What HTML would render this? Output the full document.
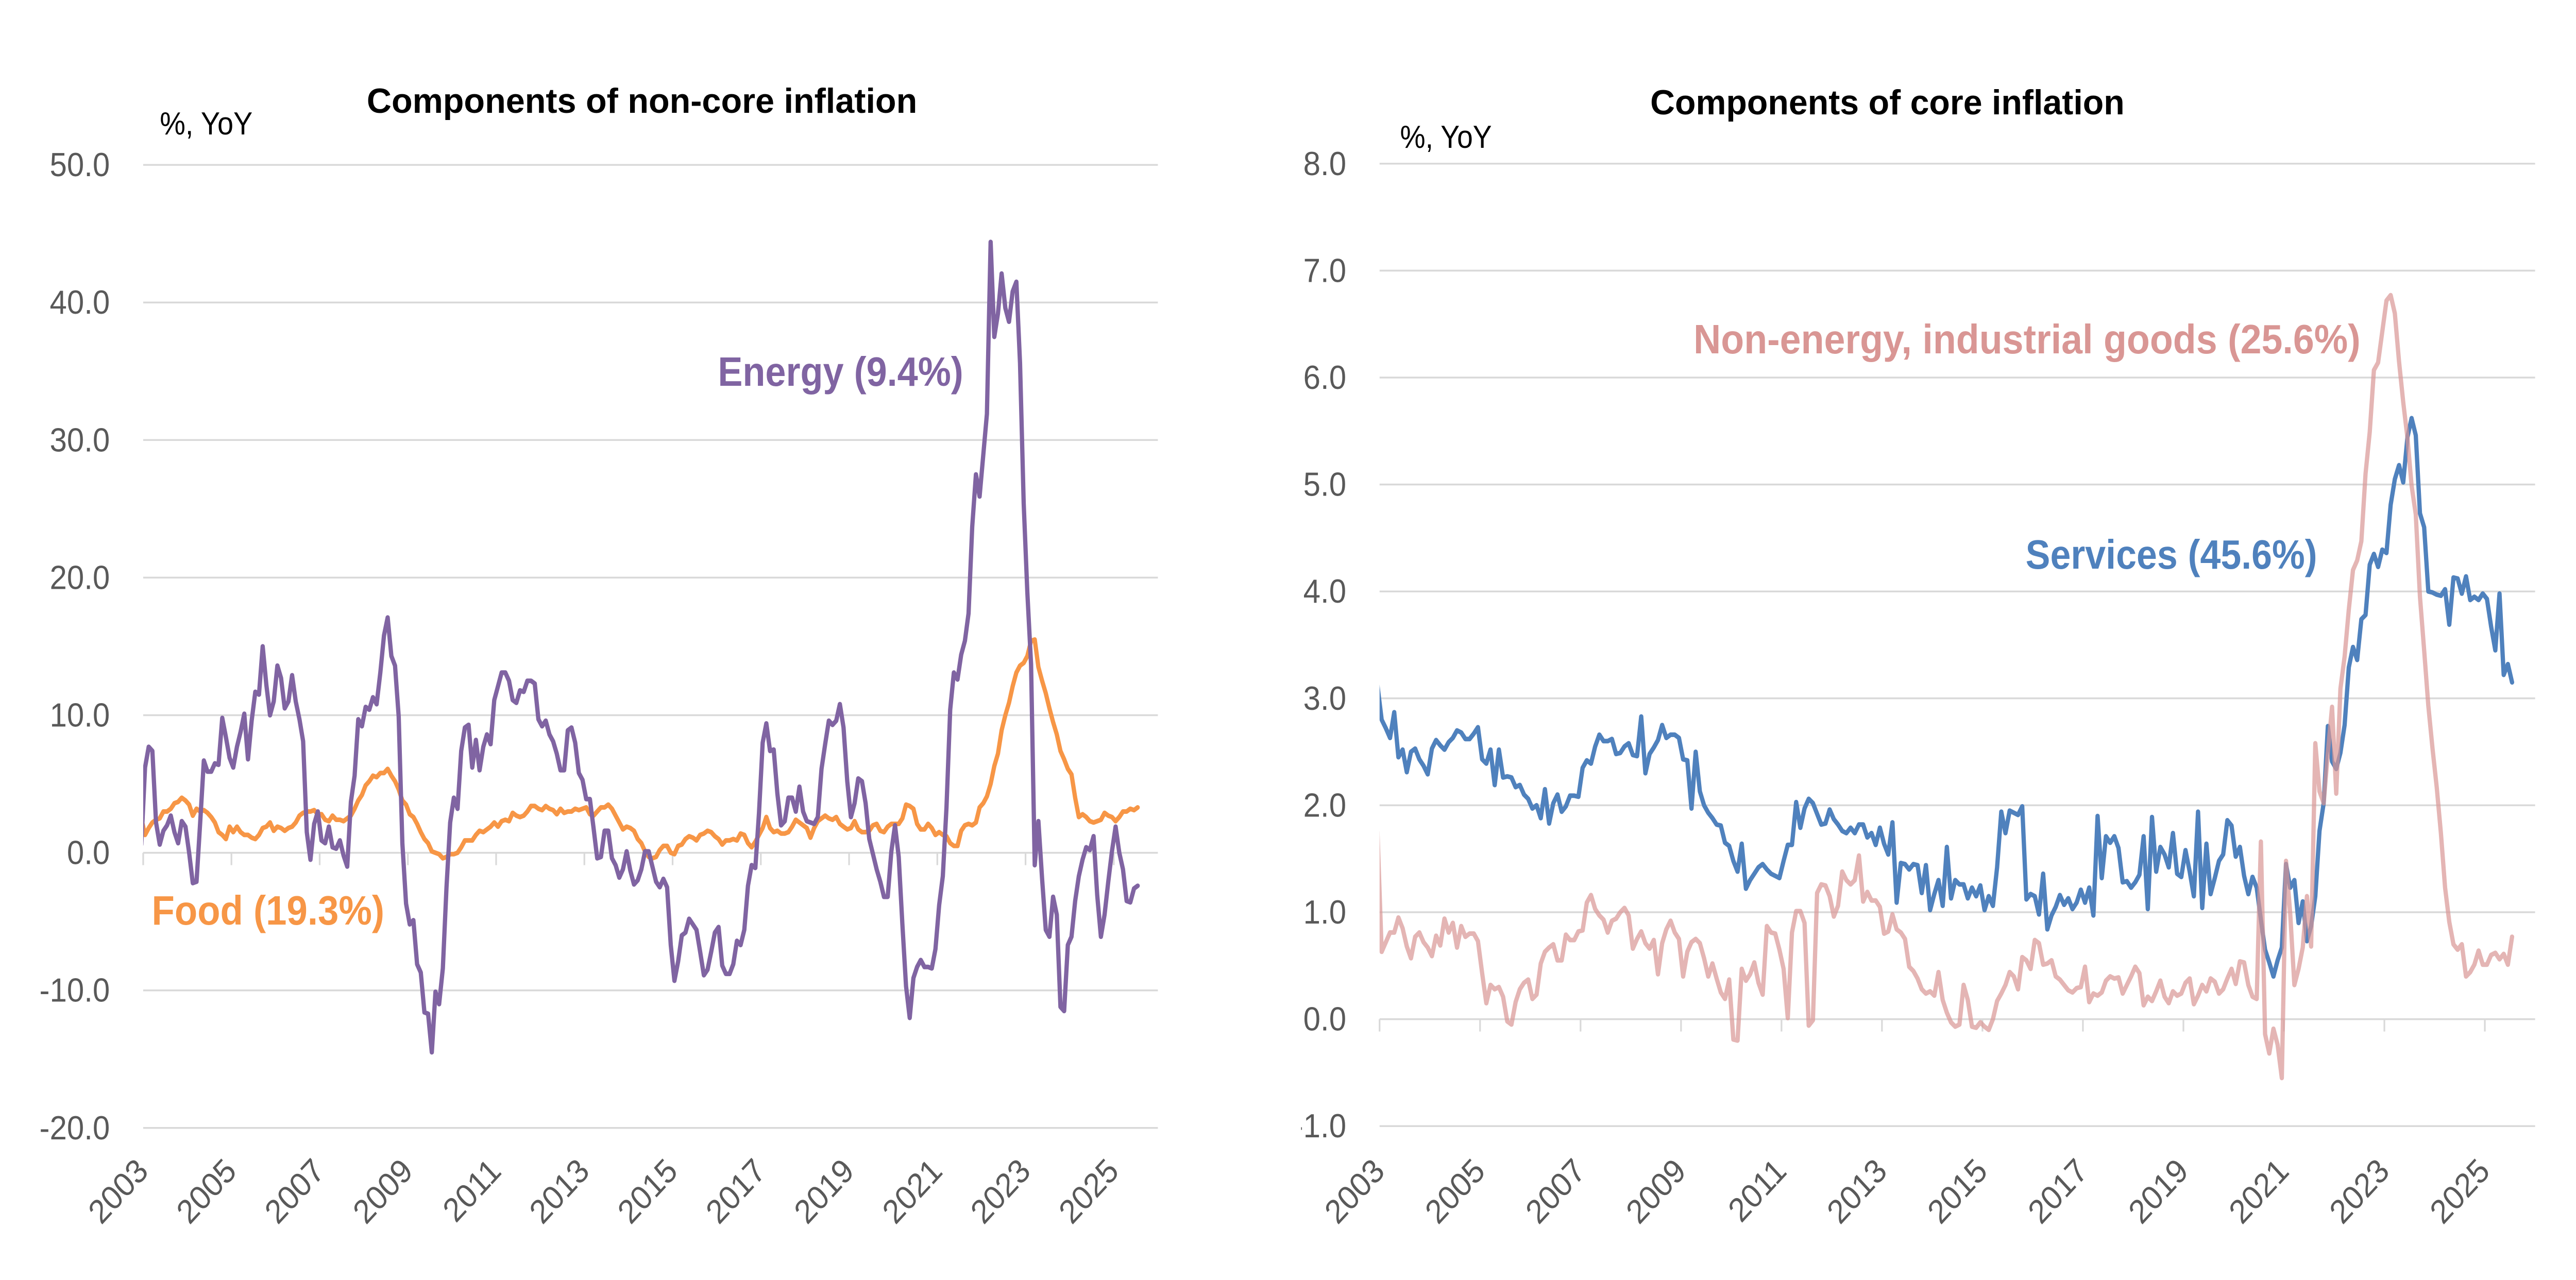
<!DOCTYPE html>
<html lang="en">
<head>
<meta charset="utf-8">
<title>Components of inflation</title>
<style>
html,body{margin:0;padding:0;background:#fff;width:100%;height:100%;overflow:hidden}
svg{display:block;width:100vw;height:100vh}
text{font-family:"Liberation Sans",sans-serif}
.tick{font-size:65px;fill:#595959}
.title{font-size:68px;font-weight:bold;fill:#000}
.unit{font-size:62px;fill:#000}
.series{font-size:80px;font-weight:bold}
.line{fill:none;stroke-width:9;stroke-linejoin:round;stroke-linecap:round}
</style>
</head>
<body>
<svg id="root" xmlns="http://www.w3.org/2000/svg" viewBox="0 0 5415 2485" preserveAspectRatio="none">
  <rect width="5415" height="2485" fill="#fff"/>
  <defs>
    <clipPath id="clip-left"><rect x="301" y="200" width="2133" height="2100"/></clipPath>
    <clipPath id="clip-right"><rect x="2900" y="200" width="2429" height="2100"/></clipPath>
    <clipPath id="clip-right-labels"><rect x="2735" y="200" width="165" height="2100"/></clipPath>
  </defs>
  <g id="left-panel"></g>
  <g id="right-panel"></g>

  <text class="title" x="771" y="219" textLength="1157" lengthAdjust="spacingAndGlyphs">Components of non-core inflation</text>
  <text class="unit" x="336" y="261" textLength="195" lengthAdjust="spacingAndGlyphs">%, YoY</text>
  <text class="series" fill="#8064A2" x="1509" y="749" textLength="516" lengthAdjust="spacingAndGlyphs">Energy (9.4%)</text>
  <text class="series" fill="#F79646" x="319" y="1795" textLength="489" lengthAdjust="spacingAndGlyphs">Food (19.3%)</text>

  <text class="title" x="3469" y="222" textLength="997" lengthAdjust="spacingAndGlyphs">Components of core inflation</text>
  <text class="unit" x="2943" y="287" textLength="193" lengthAdjust="spacingAndGlyphs">%, YoY</text>
  <text class="series" fill="#D99694" x="3560" y="686" textLength="1402" lengthAdjust="spacingAndGlyphs">Non-energy, industrial goods (25.6%)</text>
  <text class="series" fill="#4F81BD" x="4258" y="1104" textLength="613" lengthAdjust="spacingAndGlyphs">Services (45.6%)</text>
</svg>
<script>
const yearLabels = ['2003','2005','2007','2009','2011','2013','2015','2017','2019','2021','2023','2025'];
const leftYTicks = [50,40,30,20,10,0,-10,-20];
const rightYTicks = [8,7,6,5,4,3,2,1,0,-1];

const energyValues = [0.6,
6.2,7.7,7.4,2.2,0.6,1.6,2.0,2.7,1.5,0.7,
2.3,1.9,0.0,-2.2,-2.1,2.2,6.7,5.9,5.9,6.5,
6.4,9.8,8.4,6.9,6.2,7.7,8.8,10.1,6.8,9.6,
11.7,11.5,15.0,12.2,10.0,11.0,13.6,12.7,10.5,11.0,
12.9,11.0,9.7,8.1,1.5,-0.5,2.1,3.0,0.9,0.7,
1.9,0.4,0.3,0.9,-0.2,-1.0,3.7,5.6,9.7,9.2,
10.6,10.4,11.3,10.8,13.1,15.8,17.1,14.3,13.6,9.9,
0.7,-3.7,-5.2,-4.9,-8.1,-8.7,-11.6,-11.7,-14.5,-10.1,
-11.0,-8.4,-2.5,2.2,4.0,3.2,7.4,9.1,9.3,6.2,
8.2,6.0,7.7,8.6,7.9,11.1,12.1,13.1,13.1,12.5,
11.1,10.9,11.8,11.7,12.5,12.5,12.3,9.7,9.2,9.6,
8.6,8.1,7.2,6.0,6.0,8.9,9.1,8.0,5.8,5.3,
3.9,3.9,1.8,-0.4,-0.3,1.6,1.6,-0.4,-0.9,-1.8,
-1.2,0.1,-1.3,-2.3,-2.0,-1.2,0.1,0.1,-1.0,-2.1,
-2.5,-1.9,-2.5,-6.7,-9.3,-7.9,-6.0,-5.8,-4.8,-5.2,
-5.6,-7.2,-8.9,-8.5,-7.2,-5.8,-5.4,-8.2,-8.8,-8.8,
-8.1,-6.4,-6.7,-5.6,-2.4,-0.9,-1.1,2.9,8.0,9.4,
7.4,7.5,4.3,2.0,2.3,4.0,4.0,3.0,4.8,3.0,
2.3,2.2,2.1,2.6,6.1,7.9,9.6,9.3,9.6,10.8,
9.1,5.2,2.6,3.6,5.4,5.2,3.6,1.0,-0.1,-1.2,
-2.1,-3.2,-3.2,0.1,2.0,-0.3,-5.2,-9.7,-12.0,-9.1,
-8.3,-7.8,-8.3,-8.3,-8.4,-7.0,-3.8,-1.7,3.3,10.4,
13.1,12.6,14.4,15.4,17.4,23.7,27.5,25.9,28.9,31.9,
44.4,37.5,39.2,42.1,39.6,38.6,40.8,41.5,35.6,25.4,
18.9,13.7,-0.9,2.3,-1.9,-5.6,-6.1,-3.2,-4.5,-11.2,
-11.5,-6.7,-6.1,-3.5,-1.7,-0.5,0.4,0.2,1.2,-3.1,
-6.1,-4.5,-2.1,0.1,1.9,0,-1.2,-3.5,-3.6,-2.6,
-2.4];

const foodValues = [2.5,
1.3,1.8,2.2,2.4,2.5,3.0,3.0,3.2,3.6,3.7,
4.0,3.8,3.5,2.7,3.2,3.0,3.1,2.9,2.6,2.2,
1.5,1.3,1.0,1.9,1.5,1.9,1.5,1.3,1.3,1.1,
1.0,1.3,1.8,1.9,2.2,1.6,1.9,1.8,1.6,1.8,
1.9,2.2,2.7,2.9,3.0,3.0,3.1,2.8,2.8,2.4,
2.3,2.7,2.4,2.4,2.3,2.5,2.7,3.2,3.8,4.2,
4.9,5.2,5.6,5.5,5.8,5.8,6.1,5.6,5.2,4.6,
3.8,3.5,2.8,2.6,2.1,1.5,1.0,0.7,0.1,0,
-0.1,-0.4,-0.3,-0.1,-0.1,0,0.4,0.9,0.9,0.9,
1.3,1.6,1.5,1.7,1.9,2.2,1.9,2.3,2.4,2.3,
2.9,2.7,2.6,2.7,3.0,3.4,3.4,3.2,3.1,3.4,
3.2,3.1,2.8,3.2,2.9,3.0,3.0,3.2,3.1,3.2,
3.3,2.8,2.7,3.0,3.3,3.3,3.5,3.2,2.7,2.2,
1.7,1.9,1.8,1.6,1.0,0.7,0.1,-0.3,-0.4,-0.3,
0.2,0.5,0.5,0,-0.1,0.5,0.6,1.0,1.2,1.1,
0.9,1.3,1.4,1.6,1.5,1.2,1.0,0.6,0.9,0.9,
1.0,0.9,1.4,1.3,0.7,0.4,0.8,1.3,1.8,2.6,
1.8,1.5,1.6,1.4,1.4,1.5,1.9,2.4,2.2,2.0,
1.8,1.1,1.8,2.3,2.5,2.7,2.5,2.4,2.6,2.1,
1.9,1.7,1.8,2.3,1.7,1.5,1.5,1.6,2.0,2.1,
1.6,1.5,1.9,2.1,2.1,2.1,2.5,3.5,3.4,3.2,
2.1,1.7,1.7,2.1,1.8,1.3,1.5,1.3,1.2,0.7,
0.5,0.5,1.6,2.0,2.1,2.0,2.2,3.3,3.6,4.1,
5.0,6.3,7.2,8.9,10.0,10.9,12.1,13.1,13.6,13.8,
14.3,15.4,15.5,13.5,12.5,11.6,10.5,9.5,8.6,7.4,
6.8,6.1,5.7,4.0,2.6,2.8,2.6,2.3,2.2,2.3,
2.4,2.9,2.7,2.6,2.3,2.6,3.0,3.0,3.2,3.1,
3.3];

const servicesValues = [3.12,
2.8,2.72,2.63,2.87,2.45,2.52,2.31,2.5,2.53,2.43,
2.37,2.29,2.53,2.61,2.56,2.52,2.59,2.63,2.7,2.68,
2.62,2.62,2.67,2.73,2.43,2.39,2.52,2.19,2.52,2.26,
2.27,2.26,2.17,2.19,2.1,2.06,1.97,2.0,1.88,2.15,
1.83,2.02,2.1,1.94,1.99,2.09,2.09,2.08,2.35,2.42,
2.39,2.55,2.66,2.6,2.6,2.62,2.48,2.49,2.55,2.58,
2.47,2.46,2.83,2.3,2.48,2.54,2.61,2.75,2.63,2.66,
2.66,2.63,2.43,2.42,1.97,2.5,2.13,2.0,1.93,1.88,
1.82,1.81,1.65,1.62,1.48,1.38,1.64,1.22,1.3,1.36,
1.42,1.45,1.4,1.36,1.34,1.32,1.48,1.63,1.63,2.03,
1.79,1.97,2.06,2.02,1.92,1.82,1.83,1.96,1.87,1.82,
1.76,1.74,1.79,1.74,1.82,1.82,1.7,1.74,1.63,1.79,
1.64,1.54,1.84,1.09,1.46,1.45,1.4,1.45,1.44,1.18,
1.44,1.02,1.17,1.3,1.06,1.61,1.13,1.3,1.26,1.26,
1.13,1.23,1.15,1.25,1.02,1.15,1.06,1.42,1.94,1.74,
1.95,1.93,1.91,1.99,1.12,1.17,1.15,0.98,1.36,0.84,
0.97,1.05,1.16,1.07,1.13,1.03,1.09,1.21,1.09,1.23,
0.97,1.9,1.32,1.71,1.65,1.71,1.6,1.28,1.29,1.23,
1.28,1.35,1.71,1.03,1.89,1.38,1.61,1.54,1.42,1.74,
1.36,1.33,1.58,1.38,1.15,1.94,1.04,1.64,1.17,1.32,
1.48,1.54,1.86,1.81,1.52,1.61,1.34,1.17,1.33,1.23,
0.93,0.65,0.53,0.4,0.55,0.67,1.45,1.23,1.3,0.9,
1.1,0.73,0.87,1.15,1.76,2.02,2.74,2.41,2.34,2.49,
2.75,3.29,3.48,3.36,3.74,3.78,4.25,4.35,4.23,4.39,
4.36,4.81,5.05,5.18,5.02,5.44,5.62,5.46,4.73,4.6,
4.0,3.99,3.97,3.96,4.02,3.69,4.13,4.12,3.98,4.14,
3.92,3.95,3.92,3.98,3.93,3.67,3.45,3.98,3.22,3.32,
3.15];

const goodsValues = [1.75,
0.63,0.72,0.81,0.81,0.95,0.85,0.68,0.57,0.77,0.81,
0.72,0.67,0.59,0.78,0.69,0.94,0.81,0.9,0.67,0.87,
0.77,0.8,0.8,0.73,0.43,0.15,0.32,0.28,0.3,0.21,
-0.02,-0.05,0.16,0.28,0.34,0.37,0.19,0.23,0.52,0.63,
0.67,0.7,0.55,0.55,0.79,0.74,0.74,0.82,0.83,1.09,
1.16,1.03,0.97,0.93,0.81,0.92,0.94,1.0,1.04,0.97,
0.66,0.75,0.82,0.71,0.66,0.74,0.42,0.71,0.84,0.92,
0.81,0.75,0.4,0.63,0.72,0.75,0.71,0.57,0.4,0.52,
0.38,0.25,0.19,0.37,-0.19,-0.2,0.47,0.36,0.42,0.53,
0.34,0.23,0.87,0.81,0.8,0.65,0.47,0.01,0.81,1.01,
1.01,0.9,-0.06,-0.01,1.18,1.26,1.25,1.15,0.96,1.06,
1.38,1.3,1.26,1.3,1.53,1.1,1.19,1.11,1.11,1.05,
0.8,0.82,0.98,0.84,0.81,0.75,0.49,0.45,0.38,0.28,
0.24,0.26,0.22,0.44,0.18,0.06,-0.03,-0.07,-0.05,0.32,
0.18,-0.07,-0.08,-0.03,-0.07,-0.1,0,0.17,0.24,0.32,
0.44,0.4,0.28,0.58,0.55,0.47,0.74,0.71,0.51,0.52,
0.55,0.4,0.37,0.32,0.27,0.25,0.29,0.3,0.49,0.16,
0.24,0.22,0.25,0.36,0.4,0.38,0.39,0.24,0.32,0.4,
0.49,0.43,0.13,0.21,0.17,0.26,0.36,0.21,0.15,0.26,
0.22,0.24,0.34,0.38,0.14,0.22,0.32,0.26,0.38,0.35,
0.24,0.28,0.38,0.47,0.33,0.54,0.53,0.32,0.21,0.19,
1.66,-0.14,-0.32,-0.09,-0.24,-0.55,1.48,0.99,0.32,0.47,
0.67,1.15,0.68,2.58,2.13,2.02,2.49,2.92,2.11,3.09,
3.39,3.83,4.2,4.29,4.47,5.1,5.49,6.07,6.14,6.43,
6.72,6.77,6.6,6.15,5.77,5.44,4.99,4.72,3.95,3.45,
2.93,2.53,2.17,1.74,1.23,0.91,0.7,0.65,0.7,0.4,
0.44,0.51,0.64,0.51,0.51,0.6,0.62,0.56,0.61,0.51,
0.77];

const SVGNS = 'http://www.w3.org/2000/svg';
const CATEGORY_COUNT = 276;
const MONTHS_PER_LABEL = 24;

function makeEl(tag, parent) {
  const el = document.createElementNS(SVGNS, tag);
  parent.appendChild(el);
  return el;
}

function drawAxes(group, cfg) {
  const step = (cfg.right - cfg.left) / CATEGORY_COUNT;
  cfg.yTicks.forEach(function (v) {
    const y = cfg.y(v);
    const grid = makeEl('line', group);
    
    
    grid.setAttribute('x1', cfg.left);
    grid.setAttribute('x2', cfg.right);
    grid.setAttribute('y1', y);
    grid.setAttribute('y2', y);
    grid.setAttribute('stroke', '#D9D9D9');
    grid.setAttribute('stroke-width', '3.5');
    const label = makeEl('text', group);
    
    
    label.setAttribute('class', 'tick');
    label.setAttribute('x', cfg.labelRight);
    label.setAttribute('y', y + 22);
    label.setAttribute('text-anchor', 'end');
    if (cfg.labelClip) label.setAttribute('clip-path', cfg.labelClip);
    label.textContent = v.toFixed(1);
  });
  yearLabels.forEach(function (year, k) {
    const x = cfg.left + step * MONTHS_PER_LABEL * k;
    const tick = makeEl('line', group);
    
    
    tick.setAttribute('x1', x);
    tick.setAttribute('x2', x);
    tick.setAttribute('y1', cfg.y(0));
    tick.setAttribute('y2', cfg.y(0) + 24);
    tick.setAttribute('stroke', '#D9D9D9');
    tick.setAttribute('stroke-width', '3.5');
    const label = makeEl('text', group);
    
    
    label.setAttribute('class', 'tick');
    label.setAttribute('text-anchor', 'end');
    label.setAttribute('transform', 'translate(' + (x + 14) + ',2277) rotate(-45)');
    label.textContent = year;
  });
}

function drawSeries(group, cfg, values, color, name, opacity) {
  const step = (cfg.right - cfg.left) / CATEGORY_COUNT;
  const pts = values.map(function (v, i) {
    return (cfg.left + step * (i - 0.5)).toFixed(1) + ',' + cfg.y(v).toFixed(1);
  }).join(' ');
  const line = makeEl('polyline', group);
  
  
  line.setAttribute('class', 'line');
  line.setAttribute('points', pts);
  line.setAttribute('stroke', color);
  line.setAttribute('clip-path', cfg.clip);
  if (opacity) line.setAttribute('stroke-opacity', opacity);
}

const leftCfg = {
  left: 301, right: 2434, labelRight: 231, yTicks: leftYTicks, clip: 'url(#clip-left)',
  y: function (v) { return 1655.6 - v * 26.71; }
};
const rightCfg = {
  left: 2900, right: 5329, labelRight: 2830, yTicks: rightYTicks, clip: 'url(#clip-right)',
  labelClip: 'url(#clip-right-labels)',
  y: function (v) { return 1978.6 - v * 207.6; }
};

const leftGroup = document.getElementById('left-panel');
const rightGroup = document.getElementById('right-panel');
drawAxes(leftGroup, leftCfg);
drawSeries(leftGroup, leftCfg, foodValues, '#F79646', 'food-line');
drawSeries(leftGroup, leftCfg, energyValues, '#8064A2', 'energy-line');
drawAxes(rightGroup, rightCfg);
drawSeries(rightGroup, rightCfg, servicesValues, '#4F81BD', 'services-line');
drawSeries(rightGroup, rightCfg, goodsValues, '#D99694', 'goods-line', '0.7');
</script>
</body>
</html>
